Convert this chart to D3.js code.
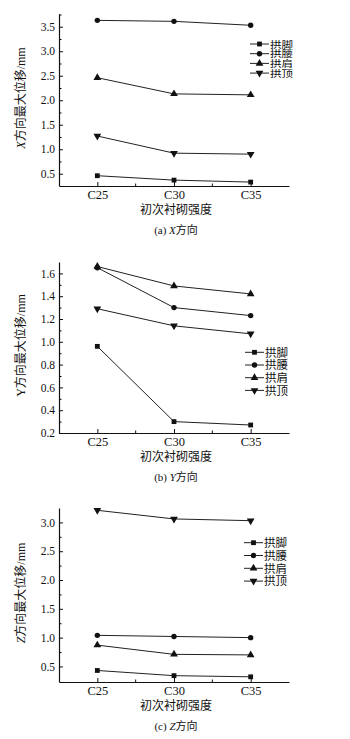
<!DOCTYPE html>
<html>
<head>
<meta charset="utf-8">
<script src="https://cdn.jsdelivr.net/npm/d3@7"></script>
<style>
body { margin: 0; background: #fff; }
svg { display: block; }
text { font-family: "Liberation Serif", "Noto Sans CJK SC", serif; fill: #111; }
</style>
</head>
<body>
<svg id="chart" width="350" height="739"></svg>
<script>
const categories = ["C25", "C30", "C35"];
const seriesNames = ["拱脚", "拱腰", "拱肩", "拱顶"];
const markers = ["square", "circle", "triangle", "triangleDown"];

// (a) X方向
const xFoot = [0.46, 0.37, 0.33];
const xWaist = [3.63, 3.61, 3.53];
const xShoulder = [2.46, 2.13, 2.11];
const xCrown = [1.27, 0.92, 0.90];
const xTicks = [0.5, 1.0, 1.5, 2.0, 2.5, 3.0, 3.5];

// (b) Y方向
const yFoot = [0.96, 0.30, 0.27];
const yWaist = [1.65, 1.30, 1.23];
const yShoulder = [1.66, 1.49, 1.42];
const yCrown = [1.29, 1.14, 1.07];
const yTicks = [0.2, 0.4, 0.6, 0.8, 1.0, 1.2, 1.4, 1.6];

// (c) Z方向
const zFoot = [0.43, 0.34, 0.32];
const zWaist = [1.04, 1.02, 1.00];
const zShoulder = [0.87, 0.71, 0.70];
const zCrown = [3.21, 3.06, 3.03];
const zTicks = [0.5, 1.0, 1.5, 2.0, 2.5, 3.0];

const panels = [
  { axisName: "X", italic: true, tag: "(a)", series: [xFoot, xWaist, xShoulder, xCrown],
    ticks: xTicks, domain: [0.25, 3.76], top: 14, bottom: 186,
    legend: { x: 250, y: 44, dy: 9.7, size: 9.5, squeeze: true } },
  { axisName: "Y", italic: false, tag: "(b)", series: [yFoot, yWaist, yShoulder, yCrown],
    ticks: yTicks, domain: [0.2, 1.70], top: 262, bottom: 433,
    legend: { x: 245, y: 352.3, dy: 12.7, size: 11.5 } },
  { axisName: "Z", italic: true, tag: "(c)", series: [zFoot, zWaist, zShoulder, zCrown],
    ticks: zTicks, domain: [0.23, 3.25], top: 508, bottom: 682,
    legend: { x: 244, y: 542.7, dy: 12.8, size: 11.5 } }
];

const left = 59, right = 289;
const svg = d3.select("#chart");

function drawMarker(g, type, x, y) {
  if (type === "square") {
    g.append("rect").attr("x", x - 2.4).attr("y", y - 2.4)
      .attr("width", 4.8).attr("height", 4.8).attr("fill", "#111");
  } else if (type === "circle") {
    g.append("circle").attr("cx", x).attr("cy", y).attr("r", 2.7).attr("fill", "#111");
  } else {
    const sym = d3.symbol().type(d3.symbolTriangle).size(26);
    g.append("path").attr("d", sym())
      .attr("transform", `translate(${x},${y})` + (type === "triangleDown" ? " rotate(180)" : ""))
      .attr("fill", "#111");
  }
}

panels.forEach(p => {
  const g = svg.append("g");
  const x = d3.scalePoint().domain(categories).range([left, right]).padding(0.5);
  const y = d3.scaleLinear().domain(p.domain).range([p.bottom, p.top]);

  // minor ticks
  const step = p.ticks[1] - p.ticks[0];
  const minor = p.ticks.map(t => t + step / 2).filter(t => t < p.domain[1]);
  const yMinor = g.append("g").attr("transform", `translate(${left},0)`)
    .call(d3.axisLeft(y).tickValues(minor).tickFormat("").tickSizeInner(-2.5).tickSizeOuter(0));
  yMinor.select(".domain").remove();
  const xMid = categories.slice(1).map((c, i) => (x(c) + x(categories[i])) / 2);
  xMid.forEach(m => {
    g.append("line").attr("x1", m).attr("x2", m).attr("y1", p.bottom).attr("y2", p.bottom - 2.5)
      .attr("stroke", "#111");
  });

  const yAxis = g.append("g").attr("transform", `translate(${left},0)`)
    .call(d3.axisLeft(y).tickValues(p.ticks).tickFormat(d3.format(".1f"))
      .tickSizeInner(-4).tickSizeOuter(0).tickPadding(4));
  const xAxis = g.append("g").attr("transform", `translate(0,${p.bottom})`)
    .call(d3.axisBottom(x).tickSizeInner(-4).tickSizeOuter(0).tickPadding(4));

  [yAxis, xAxis].forEach(a => {
    a.select(".domain").attr("stroke", "#111").attr("stroke-width", 1.2);
    a.selectAll(".tick line").attr("stroke", "#111");
    a.selectAll("text").attr("font-family", "Liberation Serif, serif")
      .attr("font-size", 11.5).attr("fill", "#111");
  });
  xAxis.selectAll("text").attr("font-size", 12.5);
  g.selectAll("line").attr("stroke-width", 1);

  // y axis label
  const yl = g.append("text")
    .attr("transform", `translate(25,${(p.top + p.bottom) / 2 - 2}) rotate(-90)`)
    .attr("text-anchor", "middle").attr("font-size", 12);
  yl.append("tspan").attr("font-style", p.italic ? "italic" : "normal").text(p.axisName);
  yl.append("tspan").text("方向最大位移/mm");

  // x axis label
  g.append("text").attr("x", 176).attr("y", p.bottom + 28)
    .attr("text-anchor", "middle").attr("font-size", 12).text("初次衬砌强度");

  // caption
  const cap = g.append("text").attr("x", 176).attr("y", p.bottom + 48)
    .attr("text-anchor", "middle").attr("font-size", 11);
  cap.append("tspan").text(p.tag + " ");
  cap.append("tspan").attr("font-style", "italic").text(p.axisName);
  cap.append("tspan").text("方向");

  // series
  const line = d3.line().x((d, i) => x(categories[i])).y(d => y(d));
  p.series.forEach((vals, si) => {
    g.append("path").attr("d", line(vals)).attr("fill", "none")
      .attr("stroke", "#222").attr("stroke-width", 1);
    vals.forEach((v, i) => drawMarker(g, markers[si], x(categories[i]), y(v)));
  });

  // legend
  const L = p.legend;
  seriesNames.forEach((name, si) => {
    const ly = L.y + si * L.dy;
    g.append("line").attr("x1", L.x).attr("x2", L.x + 19).attr("y1", ly).attr("y2", ly)
      .attr("stroke", "#222").attr("stroke-width", 1);
    drawMarker(g, markers[si], L.x + 9.5, ly);
    const t = g.append("text").attr("x", L.x + 20).attr("y", ly + L.size * 0.38)
      .attr("font-size", L.size).text(name);
    if (L.squeeze) t.attr("textLength", 23).attr("lengthAdjust", "spacingAndGlyphs");
  });
});
</script>
</body>
</html>
